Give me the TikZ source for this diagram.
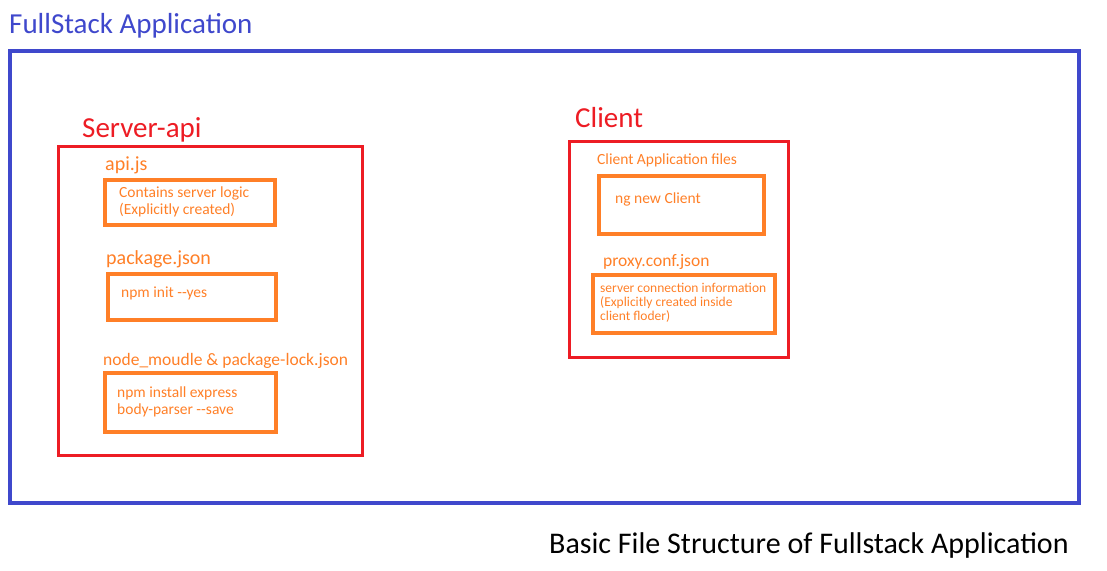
\documentclass[tikz,border=0pt]{standalone}
\usepackage{fontspec}
\setmainfont{Carlito}
\definecolor{appblue}{RGB}{63,72,204}
\definecolor{appred}{RGB}{237,28,36}
\definecolor{apporange}{RGB}{255,127,39}
\tikzset{
  label/.style={anchor=base west, inner sep=0pt},
  bigred/.style={label, text=appred, font=\fontsize{29}{31}\selectfont},
  filename/.style={label, text=apporange, font=\fontsize{20}{22}\selectfont},
  boxtext/.style={label, text=apporange, align=left, font=\fontsize{15.5}{17}\selectfont},
  folder/.style={draw=appred, line width=3pt},
  filebox/.style={draw=apporange, line width=3.5pt}
}
\begin{document}
\begin{tikzpicture}[x=1pt,y=-1pt]
\useasboundingbox (0,0) rectangle (1107,570);

\draw [appblue, line width=3.5pt] (10,51) rectangle (1079,503);
\node[label, text=appblue, font=\fontsize{29}{31}\selectfont] (fullstack) at (9,33) {FullStack Application};

% server side
\draw [folder] (58,146) rectangle (362,455);
\node[bigred] (server) at (82,137) {Server-api};

\node[filename] (apijs) at (105,170) {api.js};
\draw [filebox] (105,180) rectangle (275,225);
\node[boxtext] (apitext) at (119,214) {Contains server logic\\(Explicitly created)};

\node[filename] (packagejson) at (106,264) {package.json};
\draw [filebox] (108,274) rectangle (276,320);
\node[boxtext] (packagetext) at (121,297) {npm init -{}-yes};

\node[filename, font=\fontsize{17.5}{20}\selectfont] (nodemodule) at (103,365) {node\_moudle \& package-lock.json};
\draw [filebox] (105,373) rectangle (276,432);
\node[boxtext] (nodetext) at (117,414) {npm install express\\body-parser -{}-save};

% client side
\draw [folder] (569,141) rectangle (788,357);
\node[bigred] (client) at (575,127) {Client};

\node[boxtext] (clientfiles) at (597,164) {Client Application files};
\draw [filebox] (599,176) rectangle (764,234);
\node[boxtext] (ngtext) at (615,203) {ng new Client};

\node[label, text=apporange, font=\fontsize{17.5}{20}\selectfont] (proxyjson) at (603,266) {proxy.conf.json};
\draw [filebox] (593,275) rectangle (775,333);
\node[label, text=apporange, align=left, font=\fontsize{13.5}{14}\selectfont] (proxytext) at (600,320) {server connection information\\(Explicitly created inside\\client floder)};

\node[label, font=\fontsize{30}{32}\selectfont] (caption) at (549,553) {Basic File Structure of Fullstack Application};

\end{tikzpicture}
\end{document}
